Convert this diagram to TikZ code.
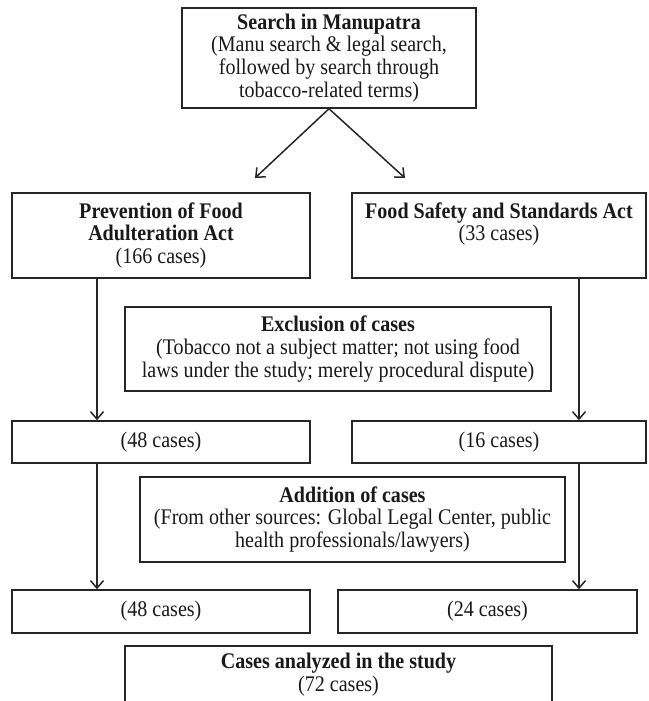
\documentclass[tikz,border=0pt]{standalone}
\usepackage{fontspec}
\setmainfont{Liberation Serif}[FakeStretch=0.9]
\usetikzlibrary{arrows.meta}
\begin{document}
\begin{tikzpicture}[x=1pt,y=-1pt,
  box/.style={draw=black!85, line width=1.5pt, fill=white, inner sep=0pt, align=center,
    font=\fontsize{22.3}{22.8}\selectfont, text=black!90},
  arr/.style={draw=black!85, line width=1.5pt, -{Straight Barb[length=7.5pt,width=13pt]}}]
\useasboundingbox[fill=white] (0,0) rectangle (648,701);
\begin{scope}
\clip (0,0) rectangle (648,701);
\node[box, minimum width=294pt, minimum height=100pt] (search) at (329,58)
  {\textbf{Search in Manupatra}\\(Manu search \& legal search,\\followed by search through\\tobacco-related terms)};
\node[box, minimum width=298pt, minimum height=85pt] (pfa) at (161,235.5)
  {\textbf{Prevention of Food}\\\textbf{Adulteration Act}\\(166 cases)};
\node[box, minimum width=294pt, minimum height=85pt] (fss) at (499,235.5)
  {\textbf{Food Safety and Standards Act}\\(33 cases)\\\phantom{(166 cases)}};
\node[box, minimum width=426pt, minimum height=84pt] (excl) at (338,349)
  {\textbf{Exclusion of cases}\\(Tobacco not a subject matter; not using food\\laws under the study; merely procedural dispute)};
\node[box, minimum width=298pt, minimum height=42pt] (l48) at (161,442) {(48 cases)};
\node[box, minimum width=294pt, minimum height=42pt] (r16) at (499,442) {(16 cases)};
\node[box, minimum width=425pt, minimum height=85pt] (add) at (352.5,519.5)
  {\textbf{Addition of cases}\\(From other sources: Global Legal Center, public\\health professionals/lawyers)};
\node[box, minimum width=298pt, minimum height=43pt] (l48b) at (161,611.5) {(48 cases)};
\node[box, minimum width=299pt, minimum height=43pt] (r24) at (487.5,611.5) {(24 cases)};
\node[box, minimum width=427pt, minimum height=57pt] (cases) at (338.5,674.5)
  {\textbf{Cases analyzed in the study}\\(72 cases)};
\coordinate (la) at (255,178);
\coordinate (ra) at (405,178);
\coordinate (cl) at (97,0);
\coordinate (cr) at (579,0);
\draw[arr] (search.south) -- (la);
\draw[arr] (search.south) -- (ra);
\draw[arr] (pfa.south -| cl) -- (l48.north -| cl);
\draw[arr] (fss.south -| cr) -- (r16.north -| cr);
\draw[arr] (l48.south -| cl) -- (l48b.north -| cl);
\draw[arr] (r16.south -| cr) -- (r24.north -| cr);
\end{scope}
\end{tikzpicture}
\end{document}
